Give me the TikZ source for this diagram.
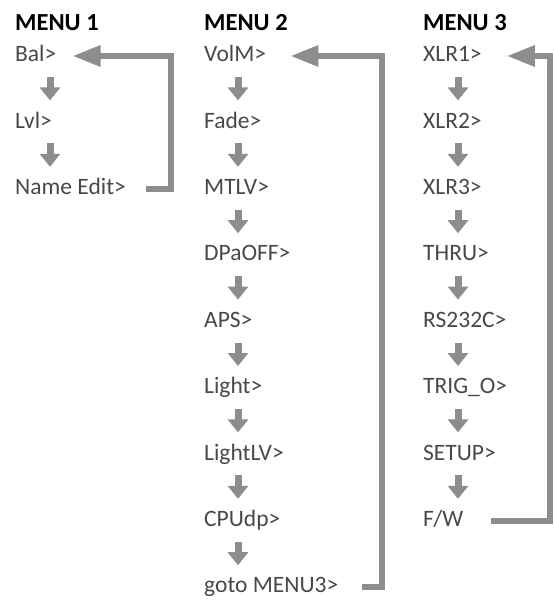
\documentclass[tikz,border=0pt]{standalone}
\usepackage{fontspec}
\setmainfont{Carlito}
\usetikzlibrary{arrows.meta}
\definecolor{menugray}{RGB}{139,141,143}
\definecolor{itemtext}{RGB}{72,72,74}

\begin{document}
\begin{tikzpicture}[x=1pt, y=-1pt,
  every node/.style={font=\fontsize{23.5}{28}\selectfont, anchor=west, inner xsep=0pt, inner ysep=2pt, text height=15.5pt, text depth=4pt, text=itemtext},
  head/.style={font=\fontsize{24.5}{29}\selectfont\bfseries, text=black},
  down/.style={draw=menugray, line width=7pt, -{Triangle[width=20pt,length=13pt]}, shorten <=21pt, shorten >=22pt},
  back/.style={draw=menugray, line width=6pt, line join=miter, -{Triangle[width=20pt,length=28pt]}}]
  \useasboundingbox (0,0) rectangle (553,601);

  \node[head] (menu1) at (15,24.7) {MENU 1};
  \node (bal) at (15,56) {Bal>};
  \node (lvl) at (15,122.4) {Lvl>};
  \node (edit) at (15,188.8) {Name Edit>};

  \node[head] (menu2) at (204,24.7) {MENU 2};
  \node (volm) at (204,56) {VolM>};
  \node (fade) at (204,122.4) {Fade>};
  \node (mtlv) at (204,188.8) {MTLV>};
  \node (dpaoff) at (204,255.2) {DPaOFF>};
  \node (aps) at (204,321.6) {APS>};
  \node (light) at (204,388) {Light>};
  \node (lightlv) at (204,454.4) {LightLV>};
  \node (cpudp) at (204,520.8) {CPUdp>};
  \node (gotom) at (204,587.2) {goto MENU3>};

  \node[head] (menu3) at (423,24.7) {MENU 3};
  \node (xlr1) at (423,56) {XLR1>};
  \node (xlr2) at (423,122.4) {XLR2>};
  \node (xlr3) at (423,188.8) {XLR3>};
  \node (thru) at (423,255.2) {THRU>};
  \node (rs232c) at (423,321.6) {RS232C>};
  \node (trigo) at (423,388) {TRIG\_O>};
  \node (setup) at (423,454.4) {SETUP>};
  \node (fw) at (423,520.8) {F/W};

  \coordinate (loop1) at (171,56);
  \coordinate (loop2) at (382,56);
  \coordinate (loop3) at (550,56);

  \draw[down] ([xshift=35pt]bal.west) -- ([xshift=35pt]lvl.west);
  \draw[down] ([xshift=35pt]lvl.west) -- ([xshift=35pt]edit.west);
  \draw[back] ([xshift=20pt]edit.east) -| (loop1) -- ([xshift=16pt]bal.east);

  \draw[down] ([xshift=34pt]volm.west) -- ([xshift=34pt]fade.west);
  \draw[down] ([xshift=34pt]fade.west) -- ([xshift=34pt]mtlv.west);
  \draw[down] ([xshift=34pt]mtlv.west) -- ([xshift=34pt]dpaoff.west);
  \draw[down] ([xshift=34pt]dpaoff.west) -- ([xshift=34pt]aps.west);
  \draw[down] ([xshift=34pt]aps.west) -- ([xshift=34pt]light.west);
  \draw[down] ([xshift=34pt]light.west) -- ([xshift=34pt]lightlv.west);
  \draw[down] ([xshift=34pt]lightlv.west) -- ([xshift=34pt]cpudp.west);
  \draw[down] ([xshift=34pt]cpudp.west) -- ([xshift=34pt]gotom.west);
  \draw[back] ([xshift=24pt]gotom.east) -| (loop2) -- ([xshift=24pt]volm.east);

  \draw[down] ([xshift=35pt]xlr1.west) -- ([xshift=35pt]xlr2.west);
  \draw[down] ([xshift=35pt]xlr2.west) -- ([xshift=35pt]xlr3.west);
  \draw[down] ([xshift=35pt]xlr3.west) -- ([xshift=35pt]thru.west);
  \draw[down] ([xshift=35pt]thru.west) -- ([xshift=35pt]rs232c.west);
  \draw[down] ([xshift=35pt]rs232c.west) -- ([xshift=35pt]trigo.west);
  \draw[down] ([xshift=35pt]trigo.west) -- ([xshift=35pt]setup.west);
  \draw[down] ([xshift=35pt]setup.west) -- ([xshift=35pt]fw.west);
  \draw[back] ([xshift=28pt]fw.east) -| (loop3) -- ([xshift=25pt]xlr1.east);
\end{tikzpicture}
\end{document}
